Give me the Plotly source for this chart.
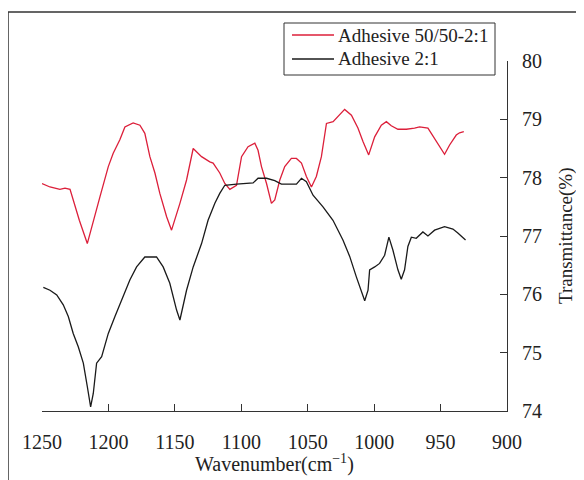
import plotly.graph_objects as go

# Adhesive 50/50-2:1 (red)
red_wn = [1250, 1244, 1236.5, 1232.7, 1228.9, 1225.2, 1221.9, 1215.9, 1211.4, 1206.4, 1200.1,
          1196.4, 1191.4, 1187.6, 1181.4, 1176.3, 1172.6, 1168.8, 1165.0, 1161.3, 1156.2,
          1152.5, 1146.2, 1141.2, 1136.2, 1129.9, 1123.7, 1121.2, 1116.2, 1112.4, 1108.6,
          1103.6, 1099.8, 1094.9, 1089.8, 1087.4, 1084.8, 1081.0, 1077.3, 1074.8, 1071.0,
          1067.3, 1062.3, 1058.5, 1054.7, 1051.0, 1047.2, 1043.5, 1039.7, 1035.9, 1030.9,
          1027.2, 1022.2, 1017.1, 1012.2, 1008.4, 1004.1, 999.6, 994.6, 990.8, 987.1,
          982.1, 975.8, 969.6, 965.8, 959.5, 957.0, 952.0, 947.0, 943.2, 938.2, 935.7, 932.5]
red_t = [77.90, 77.84, 77.80, 77.82, 77.80, 77.50, 77.27, 76.87, 77.27, 77.67, 78.19,
         78.42, 78.65, 78.87, 78.94, 78.90, 78.76, 78.36, 78.08, 77.73, 77.33,
         77.10, 77.56, 77.96, 78.50, 78.36, 78.27, 78.25, 78.08, 77.90, 77.80,
         77.87, 78.36, 78.53, 78.59, 78.47, 78.19, 77.90, 77.56, 77.62, 77.96,
         78.19, 78.33, 78.33, 78.25, 78.02, 77.84, 78.02, 78.36, 78.93, 78.96,
         79.05, 79.17, 79.07, 78.85, 78.62, 78.39, 78.70, 78.90, 78.96, 78.89,
         78.83, 78.83, 78.85, 78.87, 78.85, 78.76, 78.59, 78.40, 78.56, 78.73, 78.77, 78.79]

# Adhesive 2:1 (black)
blk_wn = [1249.0, 1244.0, 1238.9, 1234.0, 1230.2, 1226.5, 1222.7, 1218.9, 1215.9, 1213.4,
          1211.4, 1208.9, 1205.1, 1200.1, 1195.1, 1188.9, 1183.8, 1178.8, 1172.6, 1163.8,
          1158.8, 1153.8, 1148.7, 1146.2, 1141.2, 1136.2, 1129.9, 1125.0, 1119.9, 1116.2,
          1112.4, 1103.6, 1096.1, 1091.1, 1087.4, 1081.0, 1074.8, 1069.8, 1058.5, 1054.7,
          1051.0, 1046.0, 1038.5, 1031.0, 1023.5, 1018.4, 1013.4, 1009.6, 1007.1, 1004.6,
          1003.4, 999.6, 995.9, 992.1, 988.9, 985.9, 982.1, 979.6, 977.1, 974.6, 972.0,
          968.3, 963.3, 959.5, 954.5, 947.0, 940.7, 937.0, 931.2]
blk_t = [76.12, 76.07, 75.99, 75.82, 75.62, 75.33, 75.10, 74.82, 74.42, 74.07,
         74.30, 74.82, 74.93, 75.33, 75.62, 75.96, 76.25, 76.47, 76.64, 76.64,
         76.47, 76.19, 75.73, 75.56, 76.07, 76.47, 76.87, 77.27, 77.56, 77.73,
         77.87, 77.89, 77.90, 77.91, 77.99, 77.99, 77.95, 77.89, 77.89, 77.99,
         77.93, 77.70, 77.50, 77.27, 76.93, 76.65, 76.30, 76.07, 75.89, 76.07,
         76.42, 76.47, 76.53, 76.67, 76.98, 76.76, 76.42, 76.26, 76.42, 76.82, 76.98,
         76.96, 77.07, 77.00, 77.10, 77.16, 77.12, 77.05, 76.93]

x_ticks = [1250, 1200, 1150, 1100, 1050, 1000, 950, 900]
y_ticks = [74, 75, 76, 77, 78, 79, 80]

series_names = ["Adhesive 50/50-2:1", "Adhesive 2:1"]
series_colors = ["#dc1f3a", "#1a1a1a"]

FONT = "Liberation Serif, Times New Roman, serif"

fig = go.Figure()
fig.add_trace(go.Scatter(x=red_wn, y=red_t, mode="lines", name=series_names[0],
                         line=dict(color=series_colors[0], width=1.3)))
fig.add_trace(go.Scatter(x=blk_wn, y=blk_t, mode="lines", name=series_names[1],
                         line=dict(color=series_colors[1], width=1.3)))

# page body has an 8px margin; design in screen pixels and subtract it
OFF = 8
W, H = 584, 480
PL, PR, PT, PB = 42, 507, 61, 411          # plot box in screen pixels
L = PL - OFF
T = PT - OFF
R = W - (PR - OFF)
B = H - (PB - OFF)
pw = PR - PL
ph = PB - PT

def px_x(sx):
    return (sx - PL) / pw

def px_y(sy):
    return (PB - sy) / ph

shapes = [dict(type="rect", xref="paper", yref="paper",
               x0=px_x(8), x1=px_x(640), y0=px_y(12), y1=px_y(540),
               line=dict(color="#333", width=1.5), layer="below"),
          # legend box
          dict(type="rect", xref="paper", yref="paper",
               x0=px_x(284), x1=px_x(495), y0=px_y(23), y1=px_y(75),
               line=dict(color="#333", width=1), fillcolor="white")]
annotations = [
    dict(text="Wavenumber(cm<sup>−1</sup>)", xref="paper", yref="paper",
         x=px_x(274), y=px_y(463), xanchor="center", yanchor="middle",
         showarrow=False, font=dict(family=FONT, size=20, color="#222")),
    dict(text="Transmittance(%)", xref="paper", yref="paper",
         x=px_x(566), y=px_y(236), xanchor="center", yanchor="middle",
         textangle=-90, showarrow=False,
         font=dict(family=FONT, size=19, color="#222")),
]
for i, (nm, col) in enumerate(zip(series_names, series_colors)):
    ry = 35 + 24 * i
    shapes.append(dict(type="line", xref="paper", yref="paper",
                       x0=px_x(292), x1=px_x(334), y0=px_y(ry), y1=px_y(ry),
                       line=dict(color=col, width=1.3)))
    annotations.append(dict(text=nm, xref="paper", yref="paper",
                            x=px_x(336), y=px_y(ry), xanchor="left", yanchor="middle",
                            showarrow=False,
                            font=dict(family=FONT, size=19, color="#222")))

fig.update_layout(
    width=W, height=H,
    margin=dict(l=L, r=R, t=T, b=B, autoexpand=False),
    paper_bgcolor="white", plot_bgcolor="white",
    font=dict(family=FONT, size=20, color="#222"),
    showlegend=False,
    xaxis=dict(range=[1250, 900], tickvals=x_ticks, ticks="inside", ticklen=7,
               tickcolor="#333", showline=True, linecolor="#333", linewidth=1.2,
               showgrid=False, zeroline=False, ticklabelstandoff=13,
               tickfont=dict(family=FONT, size=20, color="#222")),
    yaxis=dict(range=[74, 80], tickvals=y_ticks, side="right", ticks="inside", ticklen=7,
               tickcolor="#333", showline=True, linecolor="#333", linewidth=1.2,
               showgrid=False, zeroline=False, ticklabelstandoff=10,
               tickfont=dict(family=FONT, size=20, color="#222")),
    shapes=shapes,
    annotations=annotations,
)

fig.write_html("out.html")
